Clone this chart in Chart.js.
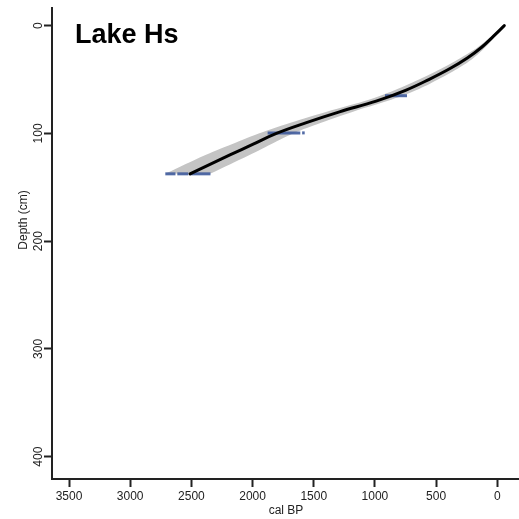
<!DOCTYPE html>
<html>
<head>
<meta charset="utf-8">
<script src="https://cdn.jsdelivr.net/npm/chart.js@4.4.1/dist/chart.umd.min.js"></script>
<style>
  html, body { margin: 0; padding: 0; background: #fff; }
  canvas { display: block; }
</style>
</head>
<body>
<canvas id="ageDepth" width="519" height="519"></canvas>
<script>
// age-depth model: depth (cm) against calibrated age (cal BP)
const depths   = [0, 10, 20, 30, 40, 50, 60, 70, 80, 90, 100, 110, 120, 137.5];
const meanAge  = [-57, 33, 128, 245, 390, 560, 750, 990, 1290, 1560, 1805, 1995, 2185, 2511];
const oldAge   = [-50, 50, 160, 300, 460, 640, 840, 1085, 1400, 1690, 1950, 2170, 2385, 2715];
const youngAge = [-62, 18, 98, 195, 325, 485, 665, 900, 1185, 1440, 1670, 1850, 2025, 2347];

// calibrated date ranges, one list of ranges per dated depth
const dateDepths = [65, 99.5, 137.5];
const dateRanges = [
  [[738, 918]],
  [[1610, 1877], [1574, 1595]],
  [[2344, 2510], [2525, 2615], [2630, 2713]],
];

const xTicks = [0, 500, 1000, 1500, 2000, 2500, 3000, 3500];
const yTicks = [0, 100, 200, 300, 400];

const FONT = '"Liberation Sans", Arial, Helvetica, sans-serif';
const INK = '#222';

const pts = (ages) => ages.map((a, i) => ({ x: a, y: depths[i] }));

const dateSets = [];
dateRanges.forEach((ranges, i) => {
  ranges.forEach(([a, b]) => {
    dateSets.push({
      data: [{ x: a, y: dateDepths[i] }, { x: b, y: dateDepths[i] }],
      borderColor: 'rgba(62,90,155,0.9)',
      borderWidth: 3,
      borderCapStyle: 'butt',
      pointRadius: 0,
      fill: false,
      tension: 0,
    });
  });
});

const textPlugin = {
  id: 'texts',
  afterDraw(chart) {
    const { ctx, scales: { y } } = chart;
    ctx.save();
    ctx.fillStyle = INK;
    ctx.font = '12px ' + FONT;
    ctx.textAlign = 'center';
    ctx.textBaseline = 'alphabetic';
    yTicks.forEach(v => {
      ctx.save();
      ctx.translate(41.5, y.getPixelForValue(v));
      ctx.rotate(-Math.PI / 2);
      ctx.fillText(String(v), 0, 0);
      ctx.restore();
    });
    ctx.save();
    ctx.translate(27, 220);
    ctx.rotate(-Math.PI / 2);
    ctx.fillText('Depth (cm)', 0, 0);
    ctx.restore();
    ctx.fillText('cal BP', 286, 514);

    ctx.fillStyle = '#000';
    ctx.textAlign = 'left';
    ctx.font = 'bold 27px ' + FONT;
    ctx.fillText('Lake Hs', 75, 43);
    ctx.restore();
  },
};

const smooth = { pointRadius: 0, tension: 0.4, borderCapStyle: 'round' };

new Chart(document.getElementById('ageDepth'), {
  type: 'line',
  data: {
    datasets: [
      { ...smooth, data: pts(meanAge), borderColor: '#000', borderWidth: 3, fill: false },
      ...dateSets,
      { ...smooth, data: pts(oldAge), borderWidth: 0, borderColor: 'rgba(0,0,0,0)', fill: false },
      {
        ...smooth,
        data: pts(youngAge),
        borderWidth: 0,
        borderColor: 'rgba(0,0,0,0)',
        backgroundColor: '#c4c4c4',
        fill: '-1',
      },
    ],
  },
  options: {
    responsive: false,
    animation: false,
    indexAxis: 'y',
    layout: { padding: { left: 0, right: 1, top: 8, bottom: 0 } },
    plugins: { legend: { display: false }, tooltip: { enabled: false } },
    scales: {
      x: {
        type: 'linear',
        reverse: true,
        min: -169,
        max: 3639,
        afterBuildTicks: s => { s.ticks = xTicks.map(v => ({ value: v })); },
        afterFit: s => { s.height = 40; },
        ticks: {
          color: INK, font: { family: FONT, size: 12 }, padding: 2,
          maxRotation: 0, autoSkip: false, callback: v => String(v),
        },
        grid: { drawOnChartArea: false, drawTicks: true, tickLength: 8, tickWidth: 2, tickColor: INK },
        border: { display: true, color: INK, width: 2 },
      },
      y: {
        type: 'linear',
        reverse: true,
        min: -16.4,
        max: 420.7,
        afterBuildTicks: s => { s.ticks = yTicks.map(v => ({ value: v })); },
        afterFit: s => { s.width = 52; },
        ticks: { display: false },
        grid: { drawOnChartArea: false, drawTicks: true, tickLength: 8, tickWidth: 2, tickColor: INK },
        border: { display: true, color: INK, width: 2 },
      },
    },
  },
  plugins: [textPlugin],
});
</script>
</body>
</html>
